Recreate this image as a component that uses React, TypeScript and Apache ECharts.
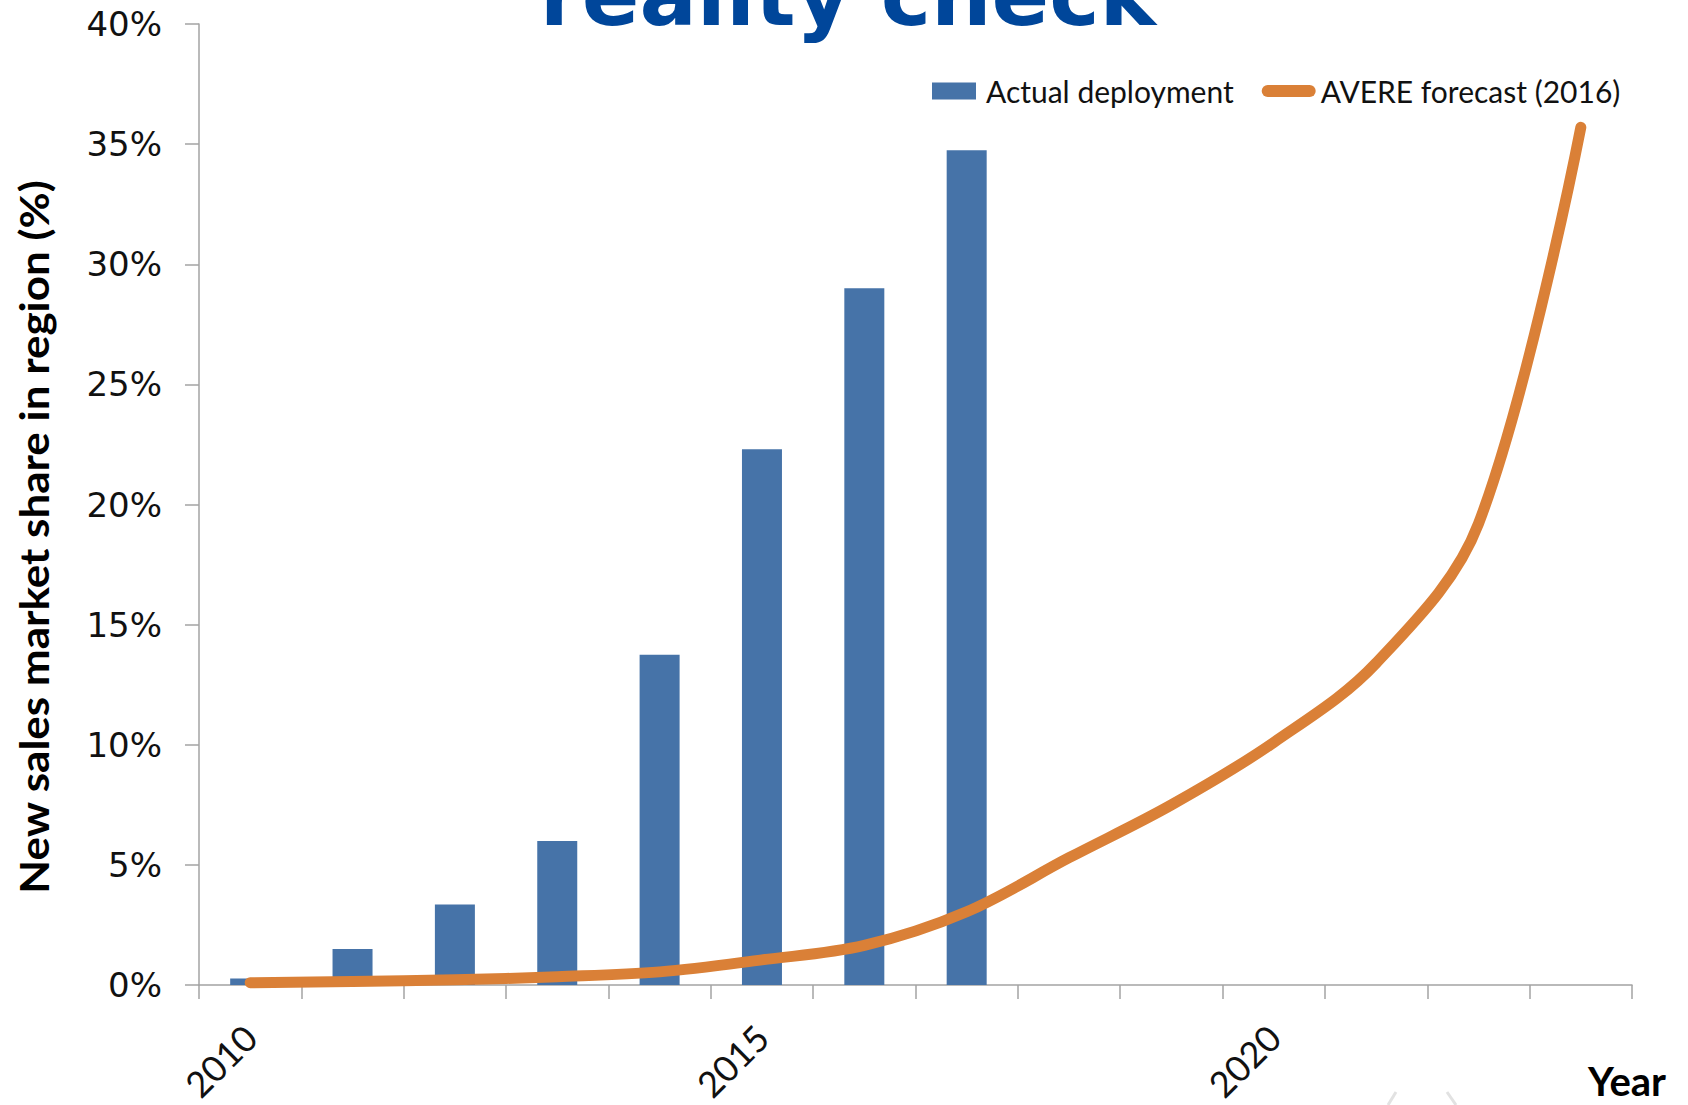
import React, { useEffect, useRef } from "react";
import * as echarts from "echarts";

const years = ["2010","2011","2012","2013","2014","2015","2016","2017","2018","2019","2020","2021","2022","2023"];
const actualDeployment = [0.27, 1.5, 3.35, 6.0, 13.75, 22.3, 29.0, 34.75, null, null, null, null, null, null];
const avereForecast = [0.1, 0.15, 0.22, 0.35, 0.55, 1.05, 1.65, 3.05, 5.3, 7.5, 10.1, 13.4, 19.2, 35.7];
const yTicks = { min: 0, max: 40, interval: 5 };

const seriesNames = ["Actual deployment", "AVERE forecast (2016)"];
const titleText = "reality check";
const yAxisTitle = "New sales market share in region (%)";
const xAxisTitle = "Year";

const BLUE = "#4673A8";
const ORANGE = "#DA8037";
const AXIS = "#A3A3A3";

export default function App() {
  const ref = useRef<HTMLDivElement>(null);
  useEffect(() => {
    document.body.style.margin = "0";
    const chart = echarts.init(ref.current!, null, { renderer: "svg" });
    const rectIcon = "path://M0,0 L44,0 L44,17 L0,17 Z";
    const capsule = "path://M6,0 L48,0 A6,6 0 0 1 48,12 L6,12 A6,6 0 0 1 6,0 Z";
    chart.setOption({
      animation: false,
      backgroundColor: "#ffffff",
      grid: { left: 199, right: 56, top: 24, bottom: 117, containLabel: false },
      legend: {
        left: 932,
        top: 76,
        padding: 0,
        itemGap: 28,
        itemWidth: 54,
        itemHeight: 17,
        symbolKeepAspect: true,
        textStyle: { fontFamily: "Lato", fontSize: 30, color: "#111" },
        data: [
          { name: seriesNames[0], icon: rectIcon },
          { name: seriesNames[1], icon: capsule },
        ],
      },
      xAxis: {
        type: "category",
        data: years,
        boundaryGap: true,
        axisLine: { show: true, lineStyle: { color: AXIS, width: 1.5 } },
        axisTick: { show: true, interval: 0, length: 14, lineStyle: { color: AXIS, width: 1.5 } },
        axisLabel: {
          interval: 4,
          rotate: 45,
          margin: 46,
          fontFamily: "Lato",
          fontSize: 36,
          color: "#111",
        },
        splitLine: { show: false },
      },
      yAxis: {
        type: "value",
        min: yTicks.min,
        max: yTicks.max,
        interval: yTicks.interval,
        axisLine: { show: true, lineStyle: { color: AXIS, width: 1.5 } },
        axisTick: { show: true, length: 14, lineStyle: { color: AXIS, width: 1.5 } },
        axisLabel: {
          formatter: "{value}%",
          margin: 37,
          fontFamily: "DejaVu Sans",
          fontSize: 34,
          color: "#111",
        },
        splitLine: { show: false },
      },
      series: [
        {
          name: seriesNames[0],
          type: "bar",
          data: actualDeployment,
          barWidth: 40,
          itemStyle: { color: BLUE },
          z: 2,
        },
        {
          name: seriesNames[1],
          type: "line",
          data: avereForecast,
          smooth: 0.35,
          symbol: "none",
          lineStyle: { color: ORANGE, width: 11, cap: "round", join: "round" },
          itemStyle: { color: ORANGE },
          z: 3,
        },
      ],
      graphic: [
        {
          type: "text",
          x: 848,
          y: -5,
          style: {
            text: titleText,
            font: 'bold 85px "DejaVu Sans"',
            fill: "#00469A",
            align: "center",
            verticalAlign: "middle",
          },
        },
        {
          type: "text",
          x: 34,
          y: 537,
          rotation: Math.PI / 2,
          scaleX: 1.1,
          style: {
            text: yAxisTitle,
            font: 'bold 40px "Lato"',
            fill: "#000",
            align: "center",
            verticalAlign: "middle",
          },
        },
        {
          type: "text",
          x: 1627,
          y: 1081,
          style: {
            text: xAxisTitle,
            font: 'bold 40px "Lato"',
            lineHeight: 40,
            fill: "#000",
            align: "center",
            verticalAlign: "middle",
          },
        },
        {
          type: "line",
          shape: { x1: 1388, y1: 1105, x2: 1396, y2: 1092 },
          style: { stroke: "#e2e2e2", lineWidth: 3 },
        },
        {
          type: "line",
          shape: { x1: 1447, y1: 1092, x2: 1456, y2: 1105 },
          style: { stroke: "#e2e2e2", lineWidth: 3 },
        },
      ],
    });
    return () => chart.dispose();
  }, []);
  return <div ref={ref} style={{ width: 1688, height: 1105 }} />;
}
